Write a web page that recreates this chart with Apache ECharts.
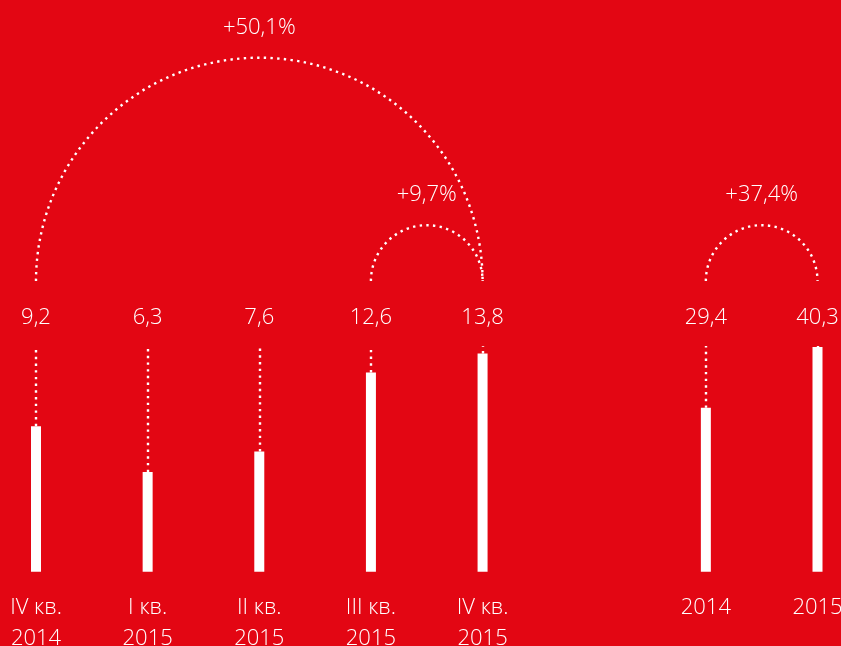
<!DOCTYPE html>
<html>
<head>
<meta charset="utf-8">
<script src="https://cdn.jsdelivr.net/npm/echarts@6/dist/echarts.min.js"></script>
<style>
html,body{margin:0;padding:0;background:#E30613;}
#chart{width:841px;height:646px;}
</style>
</head>
<body>
<div id="chart"></div>
<script>
const categories = ['IV кв.\n2014', 'I кв.\n2015', 'II кв.\n2015', 'III кв.\n2015', 'IV кв.\n2015', '', '2014', '2015'];
const quarterValues = [9.2, 6.3, 7.6, 12.6, 13.8];
const yearValues = [29.4, 40.3];
const growthLabels = ['+50,1%', '+9,7%', '+37,4%'];
const growthPairs = [[0, 4], [3, 4], [6, 7]];

const QMAX = 14.27;
const YMAX = 40.5;
const FONT = "'Open Sans', 'Lato', 'Noto Sans', sans-serif";
const FS = 22;
const GRID_TOP = 346;
const fmt = v => String(v).replace('.', ',');

const quarterData = categories.map((c, i) => i < quarterValues.length ? quarterValues[i] : '-');
const yearStart = categories.length - yearValues.length;
const yearData = categories.map((c, i) => i >= yearStart ? yearValues[i - yearStart] : '-');

function stems(values, offset, max) {
  return values.map((v, i) => [
    { coord: [i + offset, v] },
    { coord: [i + offset, max], name: fmt(v) }
  ]);
}

const markLineStyle = {
  silent: true,
  symbol: ['none', 'none'],
  animation: false,
  lineStyle: { color: '#fff', width: 2.4, type: [2.4, 4.3], opacity: 1 },
  label: {
    show: true, position: 'end', distance: 17,
    formatter: p => p.data.name || '',
    color: '#fff', fontSize: FS, fontWeight: 300, fontFamily: FONT
  },
  emphasis: { disabled: true }
};

const chart = echarts.init(document.getElementById('chart'));
chart.setOption({
  backgroundColor: '#E30613',
  animation: false,
  grid: { left: 36, right: 23.5, top: GRID_TOP, bottom: 74.3, containLabel: false, outerBoundsMode: 'none' },
  xAxis: {
    type: 'category', data: categories, boundaryGap: false,
    axisLine: { show: false }, axisTick: { show: false }, splitLine: { show: false },
    axisLabel: {
      interval: 0, margin: 21, color: '#fff', fontSize: FS, fontWeight: 300,
      fontFamily: FONT, lineHeight: 31
    }
  },
  yAxis: [
    { type: 'value', min: 0, max: QMAX, show: false, splitLine: { show: false } },
    { type: 'value', min: 0, max: YMAX, show: false, splitLine: { show: false } }
  ],
  series: [
    {
      type: 'bar', yAxisIndex: 0, data: quarterData, barWidth: 10, barGap: '-100%',
      itemStyle: { color: '#fff' },
      markLine: Object.assign({}, markLineStyle, { data: stems(quarterValues, 0, QMAX) })
    },
    {
      type: 'bar', yAxisIndex: 1, data: yearData, barWidth: 10, barGap: '-100%',
      itemStyle: { color: '#fff' },
      markLine: Object.assign({}, markLineStyle, { data: stems(yearValues, yearStart, YMAX) })
    }
  ]
});

function drawArcs() {
  const baseY = GRID_TOP - 65;
  const elements = [];
  growthPairs.forEach((pair, k) => {
    const x1 = chart.convertToPixel({ xAxisIndex: 0 }, pair[0]);
    const x2 = chart.convertToPixel({ xAxisIndex: 0 }, pair[1]);
    const cx = (x1 + x2) / 2, r = (x2 - x1) / 2;
    elements.push({
      type: 'arc', silent: true,
      shape: { cx: cx, cy: baseY, r: r, startAngle: Math.PI, endAngle: 2 * Math.PI, clockwise: true },
      style: { stroke: '#fff', fill: null, lineWidth: 2.4, lineDash: [2.4, 4.3] }
    });
    elements.push({
      type: 'text', silent: true, x: cx, y: baseY - r - 30,
      style: {
        text: growthLabels[k], fill: '#fff', fontSize: FS, fontWeight: 300, fontFamily: FONT,
        align: 'center', verticalAlign: 'middle'
      }
    });
  });
  chart.setOption({ graphic: elements });
}
drawArcs();
</script>
</body>
</html>
